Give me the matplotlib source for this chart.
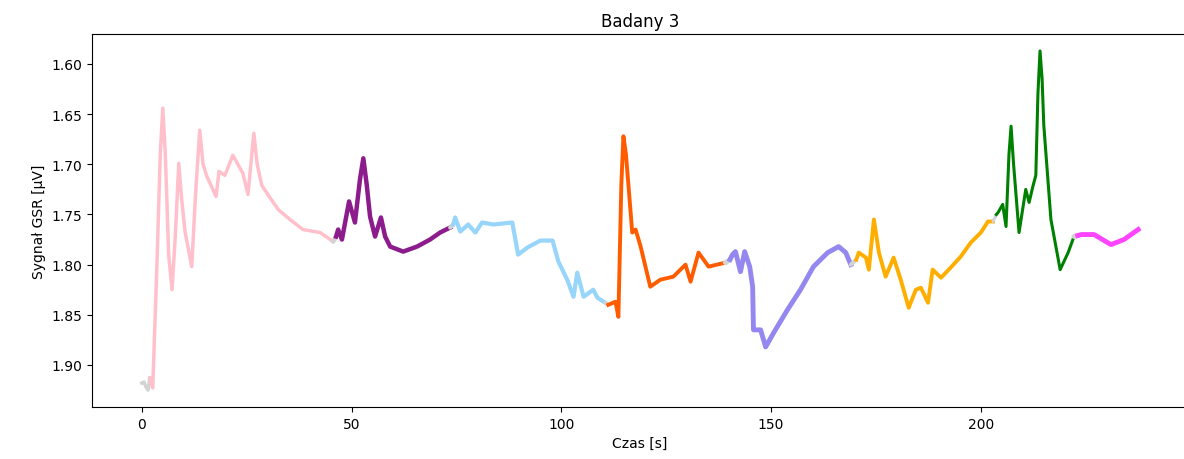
import numpy as np
import matplotlib.pyplot as plt

# odczyty sygnalu GSR (czas [s], wartosc) dla kolejnych fragmentow
t_start = [0.0, 0.5, 1.0, 1.5, 1.9]
v_start = [1.918, 1.917, 1.922, 1.925, 1.913]

t_pink = [1.9, 2.6, 3.6, 4.4, 5.0, 5.6, 6.4, 7.2, 8.0, 8.8, 9.5, 10.3, 11.9, 12.8, 13.8,
          14.6, 15.5, 17.7, 18.4, 19.8, 21.7, 24.1, 25.3, 26.7, 27.5, 28.6, 30.5, 32.5,
          35.3, 38.4, 42.5, 45.6]
v_pink = [1.913, 1.923, 1.800, 1.690, 1.644, 1.690, 1.790, 1.825, 1.770, 1.699, 1.735,
          1.767, 1.802, 1.730, 1.666, 1.700, 1.712, 1.732, 1.707, 1.711, 1.691, 1.709,
          1.730, 1.669, 1.700, 1.721, 1.733, 1.745, 1.755, 1.765, 1.768, 1.777]

t_purple = [46.3, 46.8, 47.7, 49.4, 50.8, 52.0, 52.8, 53.6, 54.4, 55.6, 57.0, 58.0, 59.2,
            62.3, 65.6, 68.7, 71.1, 73.5]
v_purple = [1.772, 1.765, 1.775, 1.737, 1.758, 1.715, 1.694, 1.720, 1.752, 1.772, 1.753,
            1.772, 1.782, 1.787, 1.782, 1.775, 1.768, 1.763]

t_blue = [74.2, 74.7, 75.9, 77.8, 79.5, 81.1, 83.8, 88.3, 89.7, 91.9, 95.0, 97.9, 99.3,
          101.4, 102.9, 103.8, 105.3, 107.6, 108.6, 110.5]
v_blue = [1.760, 1.753, 1.767, 1.760, 1.768, 1.758, 1.760, 1.758, 1.790, 1.783, 1.776,
          1.776, 1.797, 1.815, 1.832, 1.808, 1.832, 1.825, 1.833, 1.838]

t_red = [111.2, 112.9, 113.6, 114.3, 114.8, 115.4, 116.0, 116.9, 117.7, 118.9, 121.2,
         123.6, 126.7, 129.6, 130.8, 132.7, 135.1, 139.1]
v_red = [1.840, 1.837, 1.852, 1.720, 1.672, 1.690, 1.721, 1.768, 1.765, 1.782, 1.822,
         1.815, 1.812, 1.800, 1.817, 1.788, 1.802, 1.798]

t_violet = [140.2, 140.8, 141.5, 142.7, 143.7, 144.9, 145.6, 145.8, 147.5, 148.7, 150.6,
            153.9, 157.0, 160.1, 163.5, 166.1, 167.8, 169.0]
v_violet = [1.795, 1.790, 1.787, 1.807, 1.787, 1.802, 1.822, 1.865, 1.865, 1.882, 1.868,
            1.845, 1.825, 1.802, 1.788, 1.782, 1.788, 1.800]

t_orange = [170.3, 170.9, 172.6, 173.3, 174.5, 175.7, 177.3, 179.2, 180.9, 182.8, 184.5,
            185.7, 187.4, 188.5, 190.5, 192.8, 195.2, 197.6, 200.0, 201.7, 202.9]
v_orange = [1.795, 1.788, 1.793, 1.805, 1.755, 1.788, 1.812, 1.793, 1.815, 1.843, 1.825,
            1.823, 1.838, 1.805, 1.813, 1.803, 1.792, 1.778, 1.768, 1.757, 1.757]

t_green = [203.7, 204.1, 205.2, 206.0, 206.7, 207.2, 207.8, 209.1, 210.7, 211.5, 212.4,
           213.1, 213.6, 214.1, 214.6, 215.0, 216.7, 218.9, 220.8, 222.2]
v_green = [1.750, 1.748, 1.740, 1.762, 1.690, 1.662, 1.700, 1.768, 1.725, 1.738, 1.722,
           1.711, 1.630, 1.587, 1.615, 1.661, 1.755, 1.805, 1.788, 1.772]

t_magenta = [223.1, 223.9, 227.0, 231.0, 234.1, 237.5]
v_magenta = [1.771, 1.770, 1.770, 1.780, 1.775, 1.765]

segments = [
    (t_start, v_start, 'lightgrey', 2.5),
    (t_pink, v_pink, 'pink', 2.5),
    (t_purple, v_purple, '#8c1c8c', 3.2),
    (t_blue, v_blue, '#97d5fb', 3.0),
    (t_red, v_red, '#ff5c00', 2.8),
    (t_violet, v_violet, '#9488f0', 3.5),
    (t_orange, v_orange, '#ffae00', 2.8),
    (t_green, v_green, 'green', 2.2),
    (t_magenta, v_magenta, '#ff45ff', 3.5),
]

fig = plt.figure(figsize=(11.84, 4.6), dpi=100)
ax = fig.add_axes([92 / 1184, 52 / 460, 1096 / 1184, 373 / 460])

prev = None
for t, v, c, lw in segments:
    if prev is not None:
        # szary lacznik miedzy fragmentami
        ax.plot([prev[0], t[0]], [prev[1], v[0]], color='lightgrey', lw=lw,
                solid_capstyle='round')
    ax.plot(t, v, color=c, lw=lw)
    prev = (t[-1], v[-1])

ax.invert_yaxis()
ax.set_xticks([0, 50, 100, 150, 200])
ax.set_yticks([1.60, 1.65, 1.70, 1.75, 1.80, 1.85, 1.90])
ax.set_title('Badany 3', fontsize=12)
ax.set_xlabel('Czas [s]')
ax.set_ylabel('Sygnał GSR [µV]')

fig.savefig('out.png', dpi=100)
